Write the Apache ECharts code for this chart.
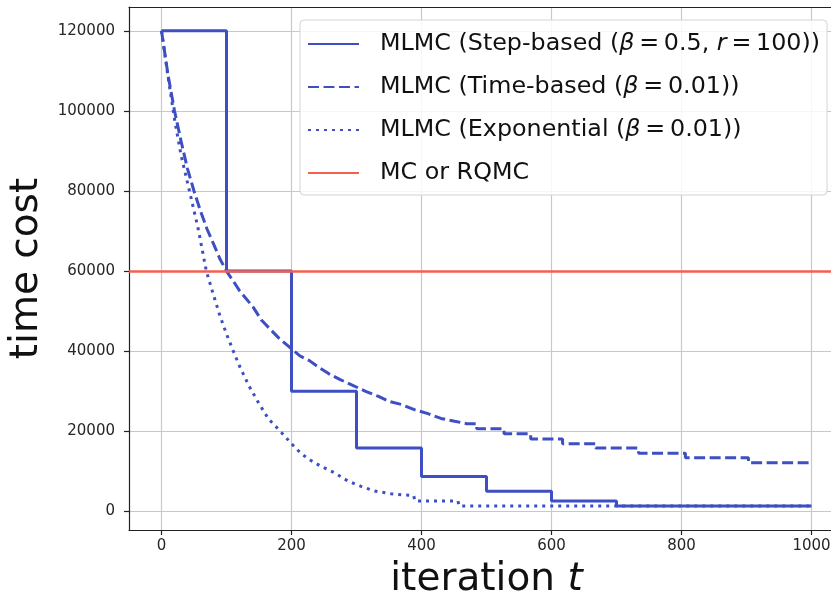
<!DOCTYPE html>
<html><head><meta charset="utf-8">
<script src="https://cdn.jsdelivr.net/npm/echarts@6/dist/echarts.min.js"></script>
<style>html,body{margin:0;padding:0;background:#fff}#c{width:831px;height:594px}</style>
</head><body><div id="c"></div>
<script>
// ---- data ----
const xTicks = [0, 200, 400, 600, 800, 1000];
const yTicks = [0, 20000, 40000, 60000, 80000, 100000, 120000];

const stepT    = [0, 100, 200, 300, 400, 500, 600, 700, 1000];
const stepCost = [120000, 60000, 30000, 15800, 8700, 5050, 2600, 1350, 1350];

const timeT    = [0, 10, 20, 30, 40, 50, 60, 70, 80, 90, 100, 110, 120, 141, 154, 166, 181, 197, 213, 227, 238, 257, 275, 295, 315, 334, 351, 369, 389, 410, 430, 451, 470, 485, 485, 527, 527, 568, 568, 617, 617, 668, 668, 734, 734, 806, 806, 903, 903, 1000];
const timeCost = [120000, 109000, 100000, 92500, 85500, 80000, 75000, 70500, 66800, 63000, 60000, 57600, 55100, 51000, 47700, 45700, 43200, 41000, 38800, 37700, 36400, 34400, 32900, 31400, 29900, 28700, 27400, 26700, 25400, 24400, 23200, 22500, 21900, 21900, 20600, 20600, 19400, 19400, 18100, 18100, 16900, 16900, 15800, 15800, 14500, 14500, 13400, 13400, 12150, 12150];

const expT    = [0, 10, 20, 30, 43, 56, 69, 80, 90, 100, 110, 120, 135, 150, 165, 184, 200, 215, 230, 246, 266, 287, 307, 328, 353, 388, 390, 456, 458, 1000];
const expCost = [120000, 108500, 98000, 89000, 80000, 70900, 60000, 54000, 48800, 44300, 40200, 36300, 31200, 26900, 23000, 19800, 16900, 14400, 12700, 11200, 9650, 7560, 6240, 5070, 4400, 3900, 2570, 2570, 1350, 1350];

const mcCost = 60000;

const seriesNames = ['step', 'time', 'exp', 'mc'];
const legendLabels = {
  step: 'MLMC (Step-based ({i|β}\u2009=\u20090.5, {i|r}\u2009=\u2009100))',
  time: 'MLMC (Time-based ({i|β}\u2009=\u20090.01))',
  exp:  'MLMC (Exponential ({i|β}\u2009=\u20090.01))',
  mc:   'MC or RQMC'
};
// --------------------------------------

const FONT = 'DejaVu Sans';
const BLUE = '#3d4fc2';
const RED = '#f2604e';
const pairs = (xs, ys) => xs.map((x, i) => [x, ys[i]]);

const chart = echarts.init(document.getElementById('c'), null, {renderer: 'canvas'});
chart.setOption({
  animation: false,
  backgroundColor: '#fff',
  grid: {left: 129, top: 7, width: 715, height: 523, outerBoundsMode: 'none', show: false, containLabel: false},
  xAxis: [{
    type: 'value', min: -50, max: 1050,
    axisLine: {show: true, onZero: false, lineStyle: {color: '#222', width: 1.2}},
    axisTick: {show: true, length: 5, customValues: xTicks, lineStyle: {color: '#222', width: 1.2}},
    axisLabel: {customValues: xTicks, formatter: v => String(v), fontSize: 15, color: '#262626', margin: 9, fontFamily: FONT},
    splitLine: {show: true, lineStyle: {color: '#c8c8c8', width: 1.2}},
    name: '{a|iteration }{b|t}', nameLocation: 'middle', nameGap: 30,
    nameTextStyle: {rich: {a: {fontSize: 39, fontFamily: FONT, color: '#111'}, b: {fontSize: 39, fontFamily: FONT, fontStyle: 'italic', color: '#111'}}}
  }, {
    type: 'value', position: 'top', min: -50, max: 1050,
    axisLine: {show: true, onZero: false, lineStyle: {color: '#222', width: 1.2}},
    axisTick: {show: false}, axisLabel: {show: false}, splitLine: {show: false}
  }],
  yAxis: {
    type: 'value', min: -4650, max: 125930,
    axisLine: {show: true, onZero: false, lineStyle: {color: '#222', width: 1.2}},
    axisTick: {show: true, length: 5, customValues: yTicks, lineStyle: {color: '#222', width: 1.2}},
    axisLabel: {customValues: yTicks, formatter: v => String(v), fontSize: 15, color: '#262626', margin: 14, fontFamily: FONT},
    splitLine: {show: true, lineStyle: {color: '#c8c8c8', width: 1.2}},
    name: 'time cost', nameLocation: 'middle', nameGap: 72,
    nameTextStyle: {fontSize: 39, fontFamily: FONT, color: '#111'}
  },
  legend: {
    orient: 'vertical', left: 300, top: 20,
    padding: [10, 7, 8, 7],
    itemWidth: 51, itemHeight: 14, itemGap: 15,
    itemStyle: {opacity: 0},
    backgroundColor: 'rgba(255,255,255,0.85)', borderColor: '#d4d4d4', borderWidth: 1, borderRadius: 4,
    data: seriesNames,
    formatter: name => legendLabels[name],
    textStyle: {fontSize: 23.8, lineHeight: 28, fontFamily: FONT, color: '#111', padding: [0, 0, 0, 16],
      rich: {i: {fontSize: 23.8, lineHeight: 28, fontFamily: FONT, fontStyle: 'italic', color: '#111'}}}
  },
  series: [
    {name: 'step', type: 'line', step: 'end', symbol: 'none', data: pairs(stepT, stepCost),
     itemStyle: {color: BLUE}, lineStyle: {color: BLUE, width: 3}},
    {name: 'time', type: 'line', symbol: 'none', data: pairs(timeT, timeCost),
     itemStyle: {color: BLUE}, lineStyle: {color: BLUE, width: 3, type: [11, 4.5]}},
    {name: 'exp', type: 'line', symbol: 'none', data: pairs(expT, expCost),
     itemStyle: {color: BLUE}, lineStyle: {color: BLUE, width: 3, type: [3, 5], cap: 'butt'}},
    {name: 'mc', type: 'line', symbol: 'none', data: [],
     itemStyle: {color: RED}, lineStyle: {color: RED, width: 2.5},
     markLine: {symbol: 'none', silent: true, label: {show: false}, lineStyle: {color: RED, width: 2.5, type: 'solid'},
       data: [{yAxis: mcCost}]}}
  ]
});
</script>
</body></html>
